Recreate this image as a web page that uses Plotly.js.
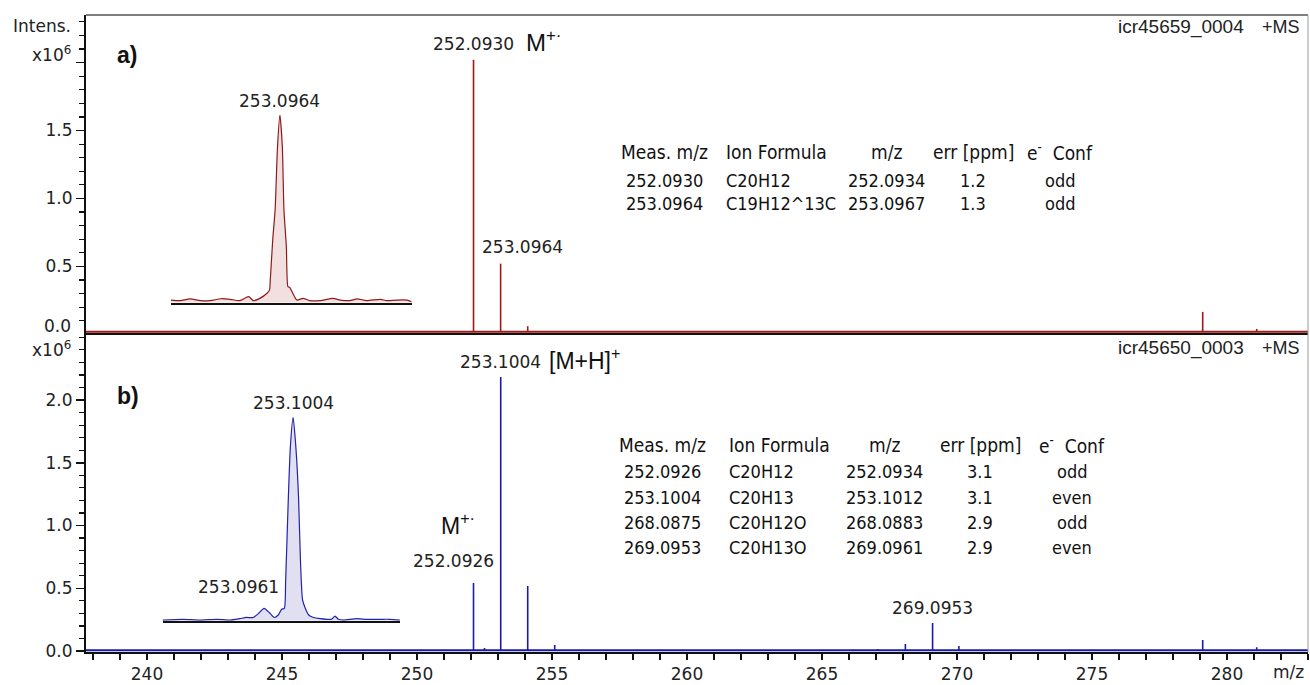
<!DOCTYPE html>
<html><head><meta charset="utf-8">
<script src="https://cdn.plot.ly/plotly-3.0.1.min.js"></script>
<style>html,body{margin:0;padding:0;background:#fff}</style>
</head><body>
<div id="chart" style="width:1310px;height:685px"></div>
<script>
// ---- data (intensities in x10^6) ----
const xRange = [237.74, 283.0];
// panel a) spectrum centroid peaks
const peaksA_mz = [252.0930, 253.0964, 254.10, 279.10, 281.10];
const peaksA_int = [2.02, 0.52, 0.06, 0.165, 0.04];
const noiseFloorA = 0.02;
// panel b) spectrum centroid peaks
const peaksB_mz = [252.0926, 252.50, 253.1004, 254.10, 255.10, 267.07, 268.0875, 269.0953, 270.07, 279.10, 281.10];
const peaksB_int = [0.542, 0.024, 2.183, 0.518, 0.048, 0.016, 0.056, 0.223, 0.04, 0.088, 0.03];
const noiseFloorB = 0.006;
// inset a) profile of 253.0964 (relative)
const insetA_mz = [253.0828,253.0840,253.0852,253.0865,253.0877,253.0891,253.0902,253.0914,253.0925,253.0931,253.0939,253.0948,253.0951,253.0952,253.0955,253.0958,253.0961,253.0964,253.0967,253.0969,253.0972,253.0974,253.0976,253.0980,253.0985,253.0993,253.1001,253.1014,253.1030,253.1039,253.1051,253.1060,253.1072,253.1089,253.1097,253.1109,253.1122,253.1128];
const insetA_rel = [0.014,0.011,0.020,0.011,0.011,0.021,0.018,0.011,0.032,0.011,0.023,0.050,0.067,0.120,0.333,0.493,0.830,1.000,0.830,0.493,0.298,0.085,0.082,0.050,0.014,0.023,0.011,0.011,0.023,0.014,0.011,0.020,0.011,0.018,0.011,0.014,0.014,0.005];
// inset b) profile of 253.1004 / 253.0961 (relative)
const insetB_mz = [253.0811,253.0841,253.0866,253.0891,253.0911,253.0925,253.0935,253.0945,253.0953,253.0961,253.0970,253.0976,253.0982,253.0987,253.0991,253.0993,253.0997,253.1000,253.1004,253.1008,253.1012,253.1015,253.1018,253.1022,253.1027,253.1034,253.1044,253.1054,253.1061,253.1066,253.1071,253.1078,253.1098,253.1113,253.1133,253.1147,253.1162];
const insetB_rel = [0.003,0.007,0.003,0.007,0.003,0.010,0.016,0.016,0.036,0.061,0.036,0.016,0.028,0.056,0.061,0.200,0.610,0.857,1.000,0.857,0.610,0.282,0.102,0.061,0.028,0.016,0.010,0.007,0.007,0.023,0.007,0.003,0.010,0.007,0.007,0.007,0.003];
// tables
const tableHeader = ['Meas. m/z','Ion Formula','m/z','err [ppm]','e<sup>-</sup>  Conf'];
const tableA = [
  ['252.0930','C20H12','252.0934','1.2','odd'],
  ['253.0964','C19H12^13C','253.0967','1.3','odd']
];
const tableB = [
  ['252.0926','C20H12','252.0934','3.1','odd'],
  ['253.1004','C20H13','253.1012','3.1','even'],
  ['268.0875','C20H12O','268.0883','2.9','odd'],
  ['269.0953','C20H13O','269.0961','2.9','even']
];
const yTickVals = [0, 0.5, 1.0, 1.5, 2.0];
const yTickTextA = ['','0.5','1.0','1.5',''];
const yTickTextB = ['0.0','0.5','1.0','1.5','2.0'];

// ---- build sticks ----
function sticks(mz, inten, floor){
  const x=[], y=[];
  for(let i=0;i<mz.length;i++){ x.push(mz[i],mz[i],null); y.push(floor,inten[i],null); }
  return {x,y};
}
const redLine = '#a01818', blueLine = '#1a1aa8';
const sA = sticks(peaksA_mz, peaksA_int, noiseFloorA), sB = sticks(peaksB_mz, peaksB_int, noiseFloorB);

const traces = [
  {x:xRange, y:[noiseFloorA,noiseFloorA], xaxis:'x2', yaxis:'y2', mode:'lines', line:{color:redLine,width:2}, hoverinfo:'skip'},
  {x:sA.x, y:sA.y, xaxis:'x2', yaxis:'y2', mode:'lines', line:{color:redLine,width:1.6}},
  {x:xRange, y:[noiseFloorB,noiseFloorB], xaxis:'x', yaxis:'y', mode:'lines', line:{color:blueLine,width:2}, hoverinfo:'skip'},
  {x:sB.x, y:sB.y, xaxis:'x', yaxis:'y', mode:'lines', line:{color:blueLine,width:1.6}},
  {x:insetA_mz, y:insetA_rel, xaxis:'x3', yaxis:'y3', mode:'lines', line:{color:'#8e1a1a',width:1.2, shape:'spline', smoothing:0.6}, fill:'tozeroy', fillcolor:'#f2e0e0'},
  {x:insetB_mz, y:insetB_rel, xaxis:'x4', yaxis:'y4', mode:'lines', line:{color:'#2222aa',width:1.2, shape:'spline', smoothing:0.6}, fill:'tozeroy', fillcolor:'#e0e0f2'}
];

const axisFont = {family:'DejaVu Sans, Verdana, sans-serif', size:17, color:'#222'};
const labFont = {family:'DejaVu Sans, sans-serif', size:17, color:'#222'};
const helv = 'Liberation Sans, Arial, sans-serif';
const tabHeadFont = {family:'DejaVu Sans Condensed, Liberation Sans Narrow, sans-serif', size:19, color:'#111'};
const tabRowFont = {family:'DejaVu Sans Condensed, Liberation Sans Narrow, sans-serif', size:18, color:'#111'};

const annotations = [];
function ann(o){ annotations.push(Object.assign({showarrow:false, font:labFont}, o)); }
function px2paperX(p){ return (p-86)/1222; }
function px2paperY(p){ return (652-p)/637; }
// axis captions
ann({xref:'paper', yref:'paper', x:px2paperX(73), y:px2paperY(26), xanchor:'right', yanchor:'middle', text:'Intens.', font:axisFont});
ann({xref:'paper', yref:'paper', x:px2paperX(73), y:px2paperY(54), xanchor:'right', yanchor:'middle', text:'x10<sup>6</sup>', font:axisFont});
ann({xref:'paper', yref:'paper', x:px2paperX(73), y:px2paperY(326), xanchor:'right', yanchor:'middle', text:'0.0', font:axisFont});
ann({xref:'paper', yref:'paper', x:px2paperX(73), y:px2paperY(349), xanchor:'right', yanchor:'middle', text:'x10<sup>6</sup>', font:axisFont});
ann({xref:'paper', yref:'paper', x:px2paperX(1306), y:px2paperY(672), xanchor:'right', yanchor:'middle', text:'m/z', font:axisFont});
ann({xref:'paper', yref:'paper', x:px2paperX(115), y:px2paperY(55), xanchor:'left', yanchor:'middle', text:'<b>a)</b>', font:{family:helv, size:23, color:'#111'}});
ann({xref:'paper', yref:'paper', x:px2paperX(115), y:px2paperY(396), xanchor:'left', yanchor:'middle', text:'<b>b)</b>', font:{family:helv, size:23, color:'#111'}});
ann({xref:'paper', yref:'paper', x:px2paperX(1246), y:px2paperY(27), xanchor:'right', yanchor:'middle', text:'icr45659_0004', font:{family:helv, size:19, color:'#222'}});
ann({xref:'paper', yref:'paper', x:px2paperX(1302), y:px2paperY(27), xanchor:'right', yanchor:'middle', text:'+MS', font:{family:helv, size:18, color:'#222'}});
ann({xref:'paper', yref:'paper', x:px2paperX(1246), y:px2paperY(348), xanchor:'right', yanchor:'middle', text:'icr45650_0003', font:{family:helv, size:19, color:'#222'}});
ann({xref:'paper', yref:'paper', x:px2paperX(1302), y:px2paperY(348), xanchor:'right', yanchor:'middle', text:'+MS', font:{family:helv, size:18, color:'#222'}});
// peak labels panel a
ann({xref:'x2', yref:'y2', x:peaksA_mz[0], y:peaksA_int[0], yanchor:'bottom', yshift:4, text:'252.0930'});
ann({xref:'x2', yref:'y2', x:peaksA_mz[0], y:peaksA_int[0], xanchor:'left', yanchor:'bottom', xshift:50, yshift:2, text:'M<sup>+·</sup>', font:{family:helv, size:24, color:'#111'}});
ann({xref:'x2', yref:'y2', x:peaksA_mz[1], y:peaksA_int[1], yanchor:'bottom', xshift:22, yshift:5, text:'253.0964'});
// peak labels panel b
ann({xref:'x', yref:'y', x:peaksB_mz[2], y:peaksB_int[2], yanchor:'bottom', yshift:3, text:'253.1004'});
ann({xref:'x', yref:'y', x:peaksB_mz[2], y:peaksB_int[2], xanchor:'left', yanchor:'bottom', xshift:46, yshift:1, text:'[M+H]<sup>+</sup>', font:{family:helv, size:23, color:'#111'}});
ann({xref:'x', yref:'y', x:peaksB_mz[0], y:peaksB_int[0], yanchor:'bottom', xshift:-20, yshift:10, text:'252.0926'});
ann({xref:'x', yref:'y', x:peaksB_mz[0], y:peaksB_int[0], yanchor:'bottom', xshift:-16, yshift:42, text:'M<sup>+·</sup>', font:{family:helv, size:23, color:'#111'}});
ann({xref:'x', yref:'y', x:peaksB_mz[7], y:peaksB_int[7], yanchor:'bottom', yshift:3, text:'269.0953'});
// inset labels
ann({xref:'x3', yref:'y3', x:253.0964, y:1, yanchor:'bottom', yshift:2, text:'253.0964'});
ann({xref:'x4', yref:'y4', x:253.1004, y:1, yanchor:'bottom', yshift:2, text:'253.1004'});
ann({xref:'x4', yref:'y4', x:253.0961, y:0.166, yanchor:'middle', xshift:-26, text:'253.0961'});

// tables
const colXA = [664, 724, 886, 973, 1060], colXB = [662, 727, 884, 980, 1072];
const colAnchor = ['center','left','center','center','center'];
function table(header, rows, colX, y0, ys){
  header.forEach((h,j)=>ann({xref:'paper',yref:'paper',x:px2paperX(colX[j]),y:px2paperY(y0),xanchor:colAnchor[j],yanchor:'middle',text:h,font:tabHeadFont}));
  rows.forEach((r,i)=>r.forEach((c,j)=>ann({xref:'paper',yref:'paper',x:px2paperX(colX[j]),y:px2paperY(ys[i]),xanchor:colAnchor[j],yanchor:'middle',text:c,font:tabRowFont})));
}
table(tableHeader, tableA, colXA, 152, [180, 204]);
table(tableHeader, tableB, colXB, 445, [472, 497, 522, 547]);

const yCommon = {tickmode:'array', tickvals:yTickVals, ticks:'outside', ticklen:8, tickwidth:1.5, tickcolor:'#111',
  minor:{tickmode:'linear', tick0:0, dtick:0.1, ticks:'outside', ticklen:5, tickwidth:1.2, tickcolor:'#111'},
  showline:true, linecolor:'#111', linewidth:2, showgrid:false, zeroline:false, tickfont:axisFont, fixedrange:true};

const layout = {
  width:1310, height:685, margin:{l:86, r:2, t:15, b:33},
  paper_bgcolor:'#fff', plot_bgcolor:'#fff', showlegend:false,
  xaxis:{domain:[0,1], anchor:'y', range:xRange, tickmode:'linear', tick0:240, dtick:5, ticks:'outside', ticklen:6, tickwidth:1.5, tickcolor:'#111',
    minor:{tickmode:'linear', tick0:240, dtick:1, ticks:'outside', ticklen:6, tickwidth:1.5, tickcolor:'#111'},
    showline:true, linecolor:'#111', linewidth:2, showgrid:false, zeroline:false, tickfont:axisFont},
  xaxis2:{domain:[0,1], anchor:'y2', matches:'x', range:xRange, showticklabels:false, ticks:'', showline:true, linecolor:'#111', linewidth:2, showgrid:false, zeroline:false},
  yaxis:Object.assign({domain:[0,0.5008], anchor:'x', range:[-0.008,2.534], ticktext:yTickTextB}, yCommon),
  yaxis2:Object.assign({domain:[0.5008,1], anchor:'x2', range:[0.01,2.35], ticktext:yTickTextA}, yCommon),
  xaxis3:{domain:[0.0693,0.2665], anchor:'y3', range:[253.0828,253.1128], showticklabels:false, ticks:'', showline:true, linecolor:'#111', linewidth:2, showgrid:false, zeroline:false},
  yaxis3:{domain:[0.5484,0.843], anchor:'x3', range:[0,1], visible:false},
  xaxis4:{domain:[0.0627,0.2569], anchor:'y4', range:[253.0811,253.1162], showticklabels:false, ticks:'', showline:true, linecolor:'#111', linewidth:2, showgrid:false, zeroline:false},
  yaxis4:{domain:[0.0491,0.3685], anchor:'x4', range:[0,1], visible:false},
  shapes:[
    {type:'line', xref:'paper', yref:'paper', x0:0, x1:1, y0:1, y1:1, line:{color:'#555', width:1.5}},
    {type:'line', xref:'paper', yref:'paper', x0:1, x1:1, y0:0, y1:1, line:{color:'#999', width:1}}
  ],
  annotations:annotations
};
Plotly.newPlot('chart', traces, layout, {displayModeBar:false, staticPlot:true});
</script>
</body></html>
